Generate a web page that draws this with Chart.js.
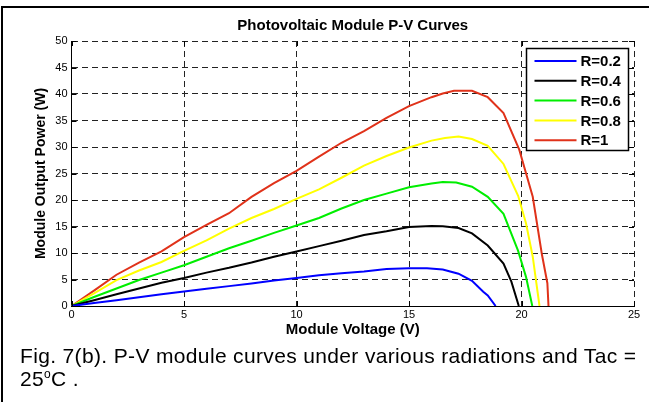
<!DOCTYPE html>
<html>
<head>
<meta charset="utf-8">
<script src="https://cdn.jsdelivr.net/npm/chart.js@4/dist/chart.umd.min.js"></script>
<style>
  body { margin: 0; background: #fff; }
  #wrap { position: relative; width: 649px; height: 402px; overflow: hidden; }
  #frame { position: absolute; left: 1px; top: 6px; width: 700px; height: 450px;
           border-top: 2px solid #000; border-left: 2px solid #000; }
  #pv { position: absolute; left: 0; top: 0; }
  #caption { position: absolute; left: 20px; top: 344px; font: 21px "Liberation Sans", Arial, sans-serif;
             letter-spacing: 0.35px; line-height: 23px; color: #000; white-space: nowrap; }
  #caption sup { font-size: 12px; vertical-align: 8px; line-height: 0; }
</style>
</head>
<body>
<div id="wrap">
  <div id="frame"></div>
  <canvas id="pv" width="649" height="402"></canvas>
  <div id="caption">Fig. 7(b). P-V module curves under various radiations and Tac =<br>25<sup>o</sup>C .</div>
</div>
<script>
// module voltage (V) and output power (W) for each radiation level
const labels = ['R=0.2', 'R=0.4', 'R=0.6', 'R=0.8', 'R=1'];
const colors = ['#0000ff', '#000000', '#00ee00', '#ffff00', '#e0321a'];

const v02 = [0, 1, 2, 3, 4, 5, 6, 7, 8, 9, 10, 11, 12, 13, 14, 15, 15.8, 16.5, 17.2, 17.8, 18.3, 18.5, 18.85];
const p02 = [0, 0.55, 1.1, 1.65, 2.2, 2.75, 3.25, 3.75, 4.25, 4.8, 5.3, 5.8, 6.2, 6.5, 7, 7.1, 7.1, 6.9, 6.1, 4.75, 2.7, 2.0, 0];

const v04 = [0, 1, 2, 3, 4, 5, 6, 7, 8, 9, 10, 11, 12, 13, 14, 15, 16, 16.5, 17.2, 17.8, 18.5, 19.2, 19.55, 19.88];
const p04 = [0, 1.1, 2.2, 3.3, 4.4, 5.3, 6.3, 7.2, 8.2, 9.3, 10.3, 11.3, 12.3, 13.4, 14.1, 14.9, 15.1, 15.05, 14.7, 13.7, 11.4, 8, 4.6, 0];

const v06 = [0, 1, 2, 3, 4, 5, 6, 7, 8, 9, 10, 11, 12, 13, 14, 15, 16, 16.5, 17.1, 17.8, 18.5, 19.2, 19.85, 20.2, 20.48];
const p06 = [0, 1.7, 3.3, 4.9, 6.3, 7.7, 9.3, 10.9, 12.3, 13.8, 15.2, 16.6, 18.4, 20, 21.2, 22.4, 23.1, 23.4, 23.3, 22.5, 20.6, 17.4, 10.4, 5.5, 0];

const v08 = [0, 1, 2, 3, 4, 5, 6, 7, 8, 9, 10, 11, 12, 13, 14, 15, 16, 16.6, 17.2, 17.8, 18.5, 19.2, 19.85, 20.2, 20.5, 20.8];
const p08 = [0, 2.4, 4.9, 6.7, 8.3, 10.4, 12.4, 14.6, 16.6, 18.3, 20.2, 22, 24.2, 26.5, 28.3, 29.9, 31.2, 31.7, 32, 31.5, 30.2, 26.8, 20.8, 15.6, 9.3, 0];

const v10 = [0, 1, 2, 3, 4, 5, 6, 7, 8, 9, 10, 11, 12, 13, 14, 15, 16, 16.5, 17, 17.8, 18.5, 19.2, 19.9, 20.5, 20.9, 21.15, 21.2];
const p10 = [0, 2.9, 5.9, 8.2, 10.3, 13, 15.3, 17.5, 20.6, 23.2, 25.5, 28.2, 30.8, 33, 35.5, 37.7, 39.4, 40.1, 40.6, 40.6, 39.4, 36.4, 29.5, 20.6, 9.9, 4.3, 0];

const xTicks = [0, 5, 10, 15, 20, 25];
const yTicks = [0, 5, 10, 15, 20, 25, 30, 35, 40, 45, 50];

const series = [[v02, p02], [v04, p04], [v06, p06], [v08, p08], [v10, p10]];
const font = '"Liberation Sans", Arial, sans-serif';

// short inward tick marks on all four sides of the plot box
const innerTicks = {
  id: 'innerTicks',
  afterDraw(chart) {
    const { ctx, chartArea: a, scales: { x, y } } = chart;
    ctx.save();
    ctx.strokeStyle = '#000';
    ctx.lineWidth = 1;
    ctx.beginPath();
    xTicks.forEach(t => {
      const px = Math.round(x.getPixelForValue(t)) + 0.5;
      ctx.moveTo(px, a.bottom); ctx.lineTo(px, a.bottom - 5);
      ctx.moveTo(px, a.top); ctx.lineTo(px, a.top + 5);
    });
    yTicks.forEach(t => {
      const py = Math.round(y.getPixelForValue(t)) + 0.5;
      ctx.moveTo(a.left, py); ctx.lineTo(a.left + 5, py);
      ctx.moveTo(a.right, py); ctx.lineTo(a.right - 5, py);
    });
    ctx.stroke();
    ctx.restore();
  }
};

// boxed legend in the upper right corner of the plot
const boxLegend = {
  id: 'boxLegend',
  afterDraw(chart) {
    const { ctx, chartArea: a } = chart;
    const bx = a.right - 107.5, by = a.top + 7.5, bw = 102, bh = 102;
    ctx.save();
    ctx.fillStyle = '#fff';
    ctx.fillRect(bx, by, bw, bh);
    ctx.strokeStyle = '#000';
    ctx.lineWidth = 1.5;
    ctx.strokeRect(bx, by, bw, bh);
    ctx.font = 'bold 15px ' + font;
    ctx.textBaseline = 'middle';
    chart.data.datasets.forEach((ds, i) => {
      const ry = by + 12.5 + i * 19.8;
      ctx.strokeStyle = ds.borderColor;
      ctx.lineWidth = 2;
      ctx.beginPath();
      ctx.moveTo(bx + 8, ry);
      ctx.lineTo(bx + 50, ry);
      ctx.stroke();
      ctx.fillStyle = '#000';
      ctx.fillText(ds.label, bx + 54, ry + 1);
    });
    ctx.restore();
  }
};

new Chart(document.getElementById('pv'), {
  type: 'line',
  data: {
    datasets: series.map((s, i) => ({
      label: labels[i],
      data: s[0].map((v, k) => ({ x: v, y: s[1][k] })),
      borderColor: colors[i],
      borderWidth: 2,
      pointRadius: 0,
      tension: 0,
      fill: false
    }))
  },
  options: {
    responsive: false,
    animation: false,
    layout: { padding: { left: 0, right: 15, top: 0, bottom: 56 } },
    plugins: {
      legend: { display: false },
      tooltip: { enabled: false },
      title: {
        display: true,
        fullSize: false,
        text: 'Photovoltaic Module P-V Curves',
        color: '#000',
        font: { family: font, size: 15, weight: 'bold' },
        padding: { top: 17, bottom: 6 }
      }
    },
    scales: {
      x: {
        type: 'linear',
        min: 0,
        max: 25,
        afterFit: s => { s.height = 40; },
        afterBuildTicks: s => { s.ticks = xTicks.map(v => ({ value: v })); },
        ticks: { color: '#000', font: { family: font, size: 11 }, padding: 2 },
        grid: { color: '#222', lineWidth: 1, drawTicks: false },
        border: { display: true, color: '#000', width: 1, dash: [6, 4] },
        title: {
          display: true,
          text: 'Module Voltage (V)',
          color: '#000',
          font: { family: font, size: 15, weight: 'bold' },
          padding: { bottom: 7 }
        }
      },
      y: {
        min: 0,
        max: 50,
        afterFit: s => { s.width = 71.5; },
        afterBuildTicks: s => { s.ticks = yTicks.map(v => ({ value: v })); },
        ticks: { color: '#000', font: { family: font, size: 11 }, padding: 4 },
        grid: { color: '#222', lineWidth: 1, drawTicks: false },
        border: { display: true, color: '#000', width: 1, dash: [6, 4] },
        title: {
          display: true,
          text: 'Module Output Power (W)',
          color: '#000',
          font: { family: font, size: 14, weight: 'bold' },
          padding: { top: 33 }
        }
      }
    }
  },
  plugins: [innerTicks, boxLegend]
});
</script>
</body>
</html>
